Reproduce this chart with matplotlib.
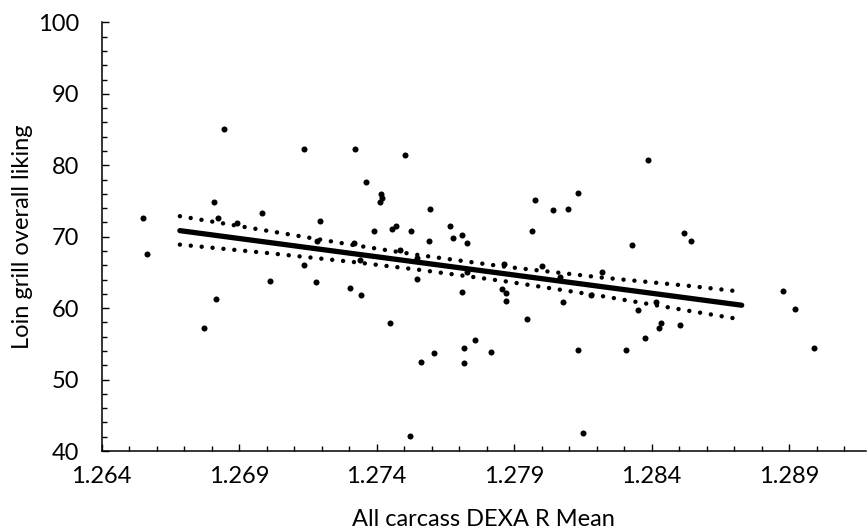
import numpy as np
import matplotlib
matplotlib.use("Agg")
import matplotlib.pyplot as plt
from matplotlib.ticker import MultipleLocator, FormatStrFormatter

plt.rcParams['font.family'] = ['Lato', 'DejaVu Sans']

# scatter: carcass DEXA R mean vs loin grill overall liking
dexa_r = [1.26551, 1.26564, 1.26845, 1.27135, 1.27322, 1.26808, 1.26983, 1.26823,
          1.26892, 1.27195, 1.27183, 1.27319, 1.27136, 1.27340, 1.27013, 1.27181,
          1.27303, 1.27345, 1.26817, 1.26773, 1.27363, 1.27504, 1.27416, 1.27421,
          1.27413, 1.27593, 1.27975, 1.28043, 1.28097, 1.28133, 1.27390, 1.27457,
          1.27470, 1.27525, 1.27666, 1.27679, 1.27712, 1.27729, 1.27590, 1.27965,
          1.27484, 1.27547, 1.27865, 1.28002, 1.28068, 1.27728, 1.27548, 1.27712,
          1.27856, 1.27871, 1.27871, 1.28079, 1.27449, 1.27947, 1.27757, 1.27720,
          1.27608, 1.27815, 1.27562, 1.27717, 1.28133, 1.27521, 1.28152, 1.28387,
          1.28328, 1.28519, 1.28545, 1.28220, 1.28180, 1.28351, 1.28415, 1.28436,
          1.28427, 1.28504, 1.28377, 1.28306, 1.28877, 1.28923, 1.28990]
liking = [72.68, 67.63, 85.10, 82.34, 82.30, 74.92, 73.38, 72.59,
          71.89, 72.21, 69.37, 69.17, 66.09, 66.75, 63.77, 63.67,
          62.79, 61.81, 61.25, 57.27, 77.61, 81.50, 75.99, 75.39,
          74.83, 73.89, 75.20, 73.71, 73.89, 76.18, 70.77, 71.09,
          71.47, 70.77, 71.47, 69.79, 70.25, 69.17, 69.37, 70.77,
          68.19, 67.03, 66.15, 65.95, 64.41, 65.07, 64.09, 62.20,
          62.69, 62.17, 61.01, 60.87, 57.97, 58.46, 55.55, 54.47,
          53.77, 53.87, 52.46, 52.28, 54.19, 42.06, 42.48, 80.76,
          68.88, 70.57, 69.45, 65.00, 61.78, 59.71, 60.80, 57.93,
          57.27, 57.68, 55.78, 54.19, 62.37, 59.89, 54.40]

# fitted line (ends) and confidence band
fit_x = [1.26685, 1.28728]
fit_y = [70.85, 60.41]
band_x = [1.26685, 1.27000, 1.27313, 1.27550, 1.27866, 1.28222, 1.28538, 1.28728]
band_hi = [72.87, 70.85, 68.85, 67.45, 65.81, 64.27, 63.11, 62.30]
band_lo = [68.89, 67.73, 66.47, 65.39, 63.77, 61.67, 59.61, 58.40]

x_ticks = [1.264, 1.269, 1.274, 1.279, 1.284, 1.289]

W, H = 868, 531
fig = plt.figure(figsize=(W / 100, H / 100), dpi=100)
ax = fig.add_axes([101.5 / W, (H - 451) / H, 764.5 / W, 428.6 / H])

ax.scatter(dexa_r, liking, s=19, color='black', linewidths=0, zorder=3)
ax.plot(fit_x, fit_y, color='black', lw=3.8, solid_capstyle='round', zorder=4)
dots = dict(color='black', lw=3.2, linestyle=(0, (0.01, 2.45)), dash_capstyle='round', zorder=4)
ax.plot(band_x, band_hi, **dots)
ax.plot(band_x, band_lo, **dots)

ax.set_xlim(1.264, 1.264 + 764.5 / 27500)
ax.set_ylim(40, 100)
ax.set_xticks(x_ticks)
ax.xaxis.set_minor_locator(MultipleLocator(0.001))
ax.xaxis.set_major_formatter(FormatStrFormatter('%.3f'))
ax.yaxis.set_major_locator(MultipleLocator(10))
ax.yaxis.set_minor_locator(MultipleLocator(2))

for s in ['top', 'right']:
    ax.spines[s].set_visible(False)
for s in ['left', 'bottom']:
    ax.spines[s].set_linewidth(1.1)

ax.tick_params(which='both', direction='in', width=1.0, labelsize=17, colors='black')
ax.tick_params(which='major', length=5)
ax.tick_params(which='minor', length=3.5)
ax.tick_params(axis='x', pad=11)
ax.tick_params(axis='y', pad=16)

ax.set_xlabel('All carcass DEXA R Mean', fontsize=17, va='center')
ax.set_ylabel('Loin grill overall liking', fontsize=17, va='center')
ax.xaxis.set_label_coords(0.5, (451 - 520) / 428.6)
ax.yaxis.set_label_coords((23 - 101.5) / 764.5, 0.5)

fig.savefig('out.png', dpi=100)
